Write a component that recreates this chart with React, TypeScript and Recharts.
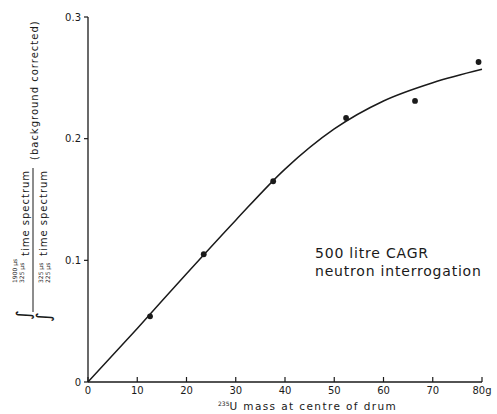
import { ComposedChart, Line, Scatter, XAxis, YAxis } from 'recharts';

// fitted curve
const curveMass = [0, 10, 20, 30, 40, 50, 60, 70, 80];
const curveRatio = [0, 0.044, 0.089, 0.133, 0.175, 0.208, 0.231, 0.246, 0.257];

// measured points
const pointMass = [12.6, 23.5, 37.6, 52.4, 66.4, 79.3];
const pointRatio = [0.054, 0.105, 0.165, 0.217, 0.231, 0.263];

const xTicks = [0, 10, 20, 30, 40, 50, 60, 70, 80];
const yTicks = [0, 0.1, 0.2, 0.3];

const curve = curveMass.map((x, i) => ({ x, y: curveRatio[i] }));
const points = pointMass.map((x, i) => ({ x, y: pointRatio[i] }));

const FONT = '"DejaVu Sans", sans-serif';
const INK = '#1a1a1a';

function Dot(props: any) {
  const { cx, cy } = props;
  return <circle cx={cx} cy={cy} r={2.9} fill={INK} />;
}

function Overlay() {
  return (
    <svg width={497} height={414} style={{ position: 'absolute', left: 0, top: 0, pointerEvents: 'none' }}>
      {/* y axis label, rotated */}
      <g transform="rotate(-90)" fill={INK} fontFamily={FONT}>
        <text x={-320} y={30} fontSize={19}>∫</text>
        <text x={-283} y={17} fontSize={6}>1900 μs</text>
        <text x={-283} y={23.5} fontSize={6}>325 μs</text>
        <text x={-256} y={29} fontSize={10} letterSpacing={1}>time spectrum</text>
        <line x1={-312} x2={-168} y1={33} y2={33} stroke={INK} strokeWidth={1} />
        <text x={-322} y={50} fontSize={19}>∫</text>
        <text x={-283} y={43} fontSize={6}>325 μs</text>
        <text x={-283} y={50} fontSize={6}>225 μs</text>
        <text x={-256} y={47} fontSize={10} letterSpacing={1}>time spectrum</text>
        <text x={-160} y={38} fontSize={10} letterSpacing={1}>(background corrected)</text>
      </g>
      {/* x axis label */}
      <text x={218} y={410} fontSize={10.5} fill={INK} fontFamily={FONT} letterSpacing={1.4}>
        <tspan fontSize={6} letterSpacing={0} dy={-4}>235</tspan>
        <tspan dy={4}>U mass at  centre of drum</tspan>
      </text>
      {/* annotation */}
      <text x={315} y={258} fontSize={14} fill={INK} fontFamily={FONT} letterSpacing={0.8}>500 litre CAGR</text>
      <text x={315} y={276} fontSize={14} fill={INK} fontFamily={FONT} letterSpacing={0.8}>neutron interrogation</text>
    </svg>
  );
}

export default function App() {
  return (
    <div style={{ position: 'absolute', left: 0, top: 0, width: 497, height: 414, background: '#fff' }}>
      <ComposedChart width={497} height={414} margin={{ top: 17, right: 15, bottom: 2, left: 28 }}>
        <XAxis
          dataKey="x"
          type="number"
          domain={[0, 80]}
          ticks={xTicks}
          tickFormatter={(v: number) => (v === 80 ? '80g' : String(v))}
          height={30}
          tickSize={-5}
          tickMargin={10}
          axisLine={{ stroke: INK, strokeWidth: 1.3 }}
          tickLine={{ stroke: INK, strokeWidth: 1.2 }}
          tick={{ fill: INK, fontSize: 10, fontFamily: FONT }}
        />
        <YAxis
          dataKey="y"
          type="number"
          domain={[0, 0.3]}
          ticks={yTicks}
          tickFormatter={(v: number) => (v === 0 ? '0' : v.toFixed(1))}
          width={60}
          tickSize={4}
          tickMargin={3}
          axisLine={{ stroke: INK, strokeWidth: 1.3 }}
          tickLine={{ stroke: INK, strokeWidth: 1.2 }}
          tick={{ fill: INK, fontSize: 10, fontFamily: FONT }}
        />
        <Line
          data={curve}
          dataKey="y"
          type="monotone"
          stroke={INK}
          strokeWidth={1.5}
          dot={false}
          isAnimationActive={false}
        />
        <Scatter data={points} dataKey="y" fill={INK} shape={Dot} isAnimationActive={false} />
      </ComposedChart>
      <Overlay />
    </div>
  );
}
